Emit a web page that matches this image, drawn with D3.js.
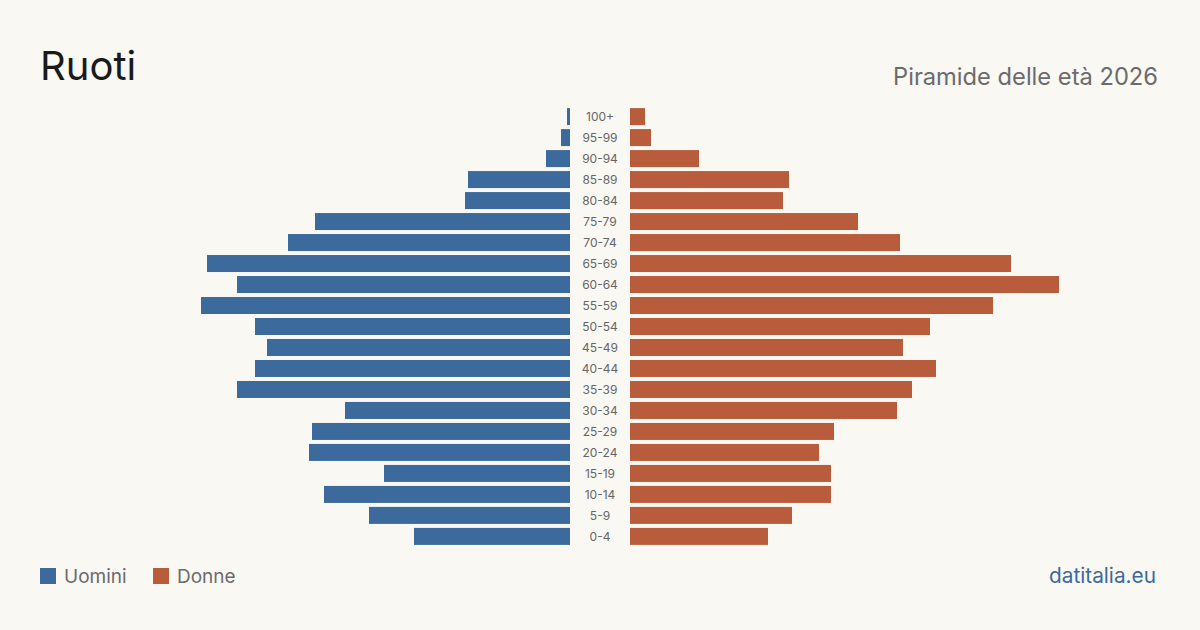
<!DOCTYPE html>
<html>
<head>
<meta charset="utf-8">
<script src="https://cdn.jsdelivr.net/npm/d3@7"></script>
<style>
  body { margin: 0; background: #f9f8f3; }
  text { font-family: Inter, "Noto Sans", sans-serif; }
</style>
</head>
<body>
<div id="chart"></div>
<script>
var w = 1200, h = 630;

var ages = ["100+","95-99","90-94","85-89","80-84","75-79","70-74","65-69","60-64","55-59",
  "50-54","45-49","40-44","35-39","30-34","25-29","20-24","15-19","10-14","5-9","0-4"];
var uomini = [1,3,8,34,35,85,94,121,111,123,105,101,105,111,75,86,87,62,82,67,52];
var donne  = [5,7,23,53,51,76,90,127,143,121,100,91,102,94,89,68,63,67,67,54,46];

var blueC = "#3c6a9c";
var orangeC = "#b95c3c";

var svg = d3.select("#chart")
  .append("svg")
  .attr("width", w)
  .attr("height", h);

svg.append("rect").attr("width", w).attr("height", h).style("fill", "#f9f8f3");

var y = d3.scaleBand()
  .domain(ages)
  .range([106, 547])
  .paddingInner(4/21)
  .paddingOuter(0.1);

var x = d3.scaleLinear().domain([0, 150]).range([0, 450]);

var leftEdge = 570, rightEdge = 630;

svg.selectAll(".m")
  .data(ages)
  .enter()
  .append("rect")
  .attr("x", function(d,i) { return leftEdge - x(uomini[i]); })
  .attr("y", function(d) { return y(d); })
  .attr("width", function(d,i) { return x(uomini[i]); })
  .attr("height", y.bandwidth())
  .style("fill", blueC);

svg.selectAll(".f")
  .data(ages)
  .enter()
  .append("rect")
  .attr("x", rightEdge)
  .attr("y", function(d) { return y(d); })
  .attr("width", function(d,i) { return x(donne[i]); })
  .attr("height", y.bandwidth())
  .style("fill", orangeC);

svg.selectAll(".lab")
  .data(ages)
  .enter()
  .append("text")
  .attr("x", 600)
  .attr("y", function(d) { return y(d) + y.bandwidth()/2; })
  .attr("dy", "0.35em")
  .attr("text-anchor", "middle")
  .style("font-size", "12px")
  .style("fill", "#666")
  .text(function(d) { return d; });

// titles
svg.append("text")
  .attr("x", 40).attr("y", 80)
  .style("font-size", "40px")
  .style("fill", "#1a1a1a")
  .text("Ruoti");

svg.append("text")
  .attr("x", 1158).attr("y", 85)
  .attr("text-anchor", "end")
  .style("font-size", "23.7px")
  .style("fill", "#6b6b6b")
  .text("Piramide delle età 2026");

// legend
var legend = [{name:"Uomini", c:blueC, x:40}, {name:"Donne", c:orangeC, x:153}];
var lg = svg.selectAll(".lg").data(legend).enter().append("g");
lg.append("rect")
  .attr("x", function(d) { return d.x; })
  .attr("y", 568)
  .attr("width", 16).attr("height", 16)
  .style("fill", function(d) { return d.c; });
lg.append("text")
  .attr("x", function(d) { return d.x + 24; })
  .attr("y", 583)
  .style("font-size", "19px")
  .style("fill", "#6b6b6b")
  .text(function(d) { return d.name; });

svg.append("text")
  .attr("x", 1156).attr("y", 583)
  .attr("text-anchor", "end")
  .style("font-size", "20.8px")
  .style("fill", blueC)
  .text("datitalia.eu");
</script>
</body>
</html>
